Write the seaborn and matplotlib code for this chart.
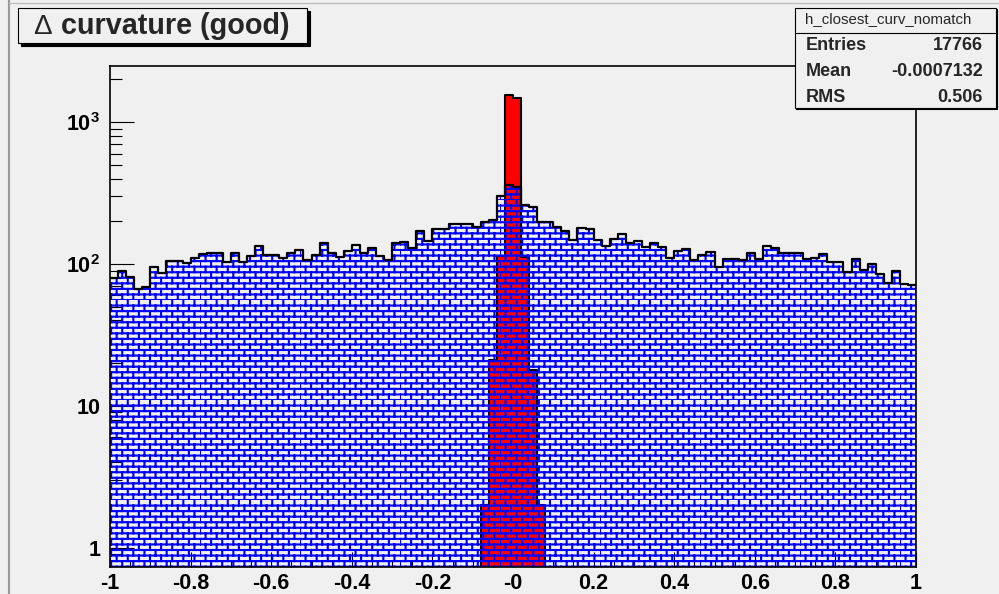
import warnings
import numpy as np
import pandas as pd
import matplotlib
matplotlib.use("Agg")
import matplotlib.pyplot as plt
import matplotlib.hatch as mhatch
from matplotlib.path import Path
from matplotlib.patches import Rectangle
from matplotlib.lines import Line2D
from matplotlib.ticker import LogLocator, NullFormatter, MultipleLocator, FixedLocator, FixedFormatter
import seaborn as sns

warnings.filterwarnings("ignore", category=matplotlib.MatplotlibDeprecationWarning)

# ---------------------------------------------------------------- data
x_lo, x_hi, n_bins = -1.0, 1.0, 100

# delta curvature, all candidates (100 bins of width 0.02 on [-1, 1])
blue_counts = [
    80, 90, 81, 67, 69, 95, 87, 105, 105, 102,
    111, 118, 120, 120, 104, 120, 104, 114, 134, 115,
    115, 111, 120, 126, 107, 116, 140, 120, 113, 124,
    136, 120, 130, 114, 107, 141, 144, 129, 171, 146,
    176, 176, 193, 190, 193, 183, 197, 206, 303, 360,
    348, 260, 251, 199, 197, 181, 172, 148, 180, 176,
    148, 134, 149, 164, 140, 145, 132, 140, 131, 111,
    124, 127, 107, 116, 122, 96, 108, 108, 107, 119,
    108, 134, 130, 119, 119, 119, 108, 111, 117, 104,
    104, 88, 108, 91, 100, 85, 74, 90, 72, 71,
]

# delta curvature, good matches: bins 46..53 (x from -0.08 to 0.08)
red_first_bin = 46
red_counts = [2, 21, 114, 1560, 1470, 112, 18, 2]

x_tick_values = [-1.0, -0.8, -0.6, -0.4, -0.2, 0.0, 0.2, 0.4, 0.6, 0.8, 1.0]
x_tick_labels = ["-1", "-0.8", "-0.6", "-0.4", "-0.2", "-0", "0.2", "0.4", "0.6", "0.8", "1"]
y_tick_values = [1, 10, 100, 1000]
y_tick_labels = ["1", "10", r"$\mathbf{10^{2}}$", r"$\mathbf{10^{3}}$"]
y_range = (0.731, 2490)

title_symbol = "\u0394"
title_words = "curvature (good)"
stats_name = "h_closest_curv_nomatch"
stats_labels = ["Entries", "Mean", "RMS"]
stats_values = ["17766", "-0.0007132", "0.506"]


# ---------------------------------------------------------------- brick hatch
class BrickHatch(mhatch.HatchPatternBase):
    """Staggered brick pattern, selected by the letter 'b' in a hatch string."""
    rows, cols = 18, 9

    def __init__(self, hatch, density):
        self.num_vertices = 2 * (self.rows + self.rows * self.cols) if "b" in hatch else 0

    def set_vertices_and_codes(self, vertices, codes):
        h = 1.0 / self.rows
        w = 1.0 / self.cols
        i = 0
        for r in range(self.rows):
            y0 = r * h
            vertices[i] = (0.0, y0); codes[i] = Path.MOVETO
            vertices[i + 1] = (1.0, y0); codes[i + 1] = Path.LINETO
            i += 2
            shift = 0.5 * w if r % 2 else 0.0
            for c in range(self.cols):
                x = c * w + shift
                vertices[i] = (x, y0); codes[i] = Path.MOVETO
                vertices[i + 1] = (x, y0 + h); codes[i + 1] = Path.LINETO
                i += 2


mhatch._hatch_types.append(BrickHatch)

# ---------------------------------------------------------------- style
W, H, DPI = 999, 594, 100
BG = "#f0f0f0"
sns.set_theme(style="white")
plt.rcParams.update({
    "font.family": ["Liberation Sans", "DejaVu Sans"],
    "mathtext.fontset": "custom",
    "mathtext.rm": "Liberation Sans",
    "mathtext.bf": "Liberation Sans:bold",
    "hatch.color": "#0000ff",
    "hatch.linewidth": 1.5,
    "figure.facecolor": BG,
    "axes.facecolor": BG,
})


def fx(px):
    return px / W


def fy(py):
    return 1.0 - py / H


fig = plt.figure(figsize=(W / DPI, H / DPI), dpi=DPI)
ax = fig.add_axes([fx(110), fy(567), (916 - 110) / W, (567 - 66) / H])

bin_w = (x_hi - x_lo) / n_bins
centers = x_lo + bin_w * (np.arange(n_bins) + 0.5)
blue_df = pd.DataFrame({"dcurv": centers, "n": blue_counts})
red_df = pd.DataFrame({"dcurv": centers[red_first_bin:red_first_bin + len(red_counts)],
                       "n": red_counts})
red_lo = x_lo + bin_w * red_first_bin
red_hi = red_lo + bin_w * len(red_counts)

# good matches: solid red bars
sns.histplot(data=red_df, x="dcurv", weights="n", bins=len(red_counts),
             binrange=(red_lo, red_hi), element="step", fill=True,
             color="#ff0000", facecolor="#ff0000", edgecolor="black", linewidth=1.5,
             alpha=1, ax=ax, zorder=1)
# all candidates: blue brick fill drawn over the red bars
sns.histplot(data=blue_df, x="dcurv", weights="n", bins=n_bins,
             binrange=(x_lo, x_hi), element="step", fill=True,
             color="#0000ff", facecolor="none", edgecolor="#0000ff", linewidth=0,
             hatch="b", alpha=1, ax=ax, zorder=2)
sns.histplot(data=blue_df, x="dcurv", weights="n", bins=n_bins,
             binrange=(x_lo, x_hi), element="step", fill=False,
             color="black", linewidth=1.6, ax=ax, zorder=3)

ax.set_yscale("log")
ax.set_xlim(x_lo, x_hi)
ax.set_ylim(*y_range)
ax.set_xlabel("")
ax.set_ylabel("")

ax.xaxis.set_major_locator(FixedLocator(x_tick_values))
ax.xaxis.set_major_formatter(FixedFormatter(x_tick_labels))
ax.xaxis.set_minor_locator(MultipleLocator(0.05))
ax.yaxis.set_major_locator(FixedLocator(y_tick_values))
ax.yaxis.set_major_formatter(FixedFormatter(y_tick_labels))
ax.yaxis.set_minor_locator(LogLocator(base=10, subs=np.arange(2, 10), numticks=100))
ax.yaxis.set_minor_formatter(NullFormatter())

ax.tick_params(axis="both", which="both", direction="in", color="black", width=0.8,
               labelsize=15.5, labelcolor="black")
ax.tick_params(axis="x", which="major", length=10.8, pad=4)
ax.tick_params(axis="x", which="minor", length=4.3)
ax.tick_params(axis="y", which="major", length=17.3, pad=7)
ax.tick_params(axis="y", which="minor", length=8.6)
ax.tick_params(bottom=True, left=True, top=False, right=False)
ax.tick_params(axis="both", which="minor", bottom=True, left=True)
for lab in ax.get_xticklabels() + ax.get_yticklabels():
    lab.set_fontweight("bold")
for s in ax.spines.values():
    s.set_color("black")
    s.set_linewidth(1.2)
    s.set_zorder(5)

# ---------------------------------------------------------------- canvas edges
fig.add_artist(Line2D([fx(8.5), fx(8.5)], [fy(0), fy(H)], color="#9a9a9a", lw=1.5))
fig.add_artist(Line2D([fx(8.5), fx(W)], [fy(3), fy(3)], color="#bdbdbd", lw=1.0))


def framed_box(x0, y0, x1, y1, shadow):
    fig.add_artist(Rectangle((fx(x0 + shadow), fy(y1 + shadow)), (x1 - x0) / W, (y1 - y0) / H,
                             transform=fig.transFigure, facecolor="black", edgecolor="black",
                             lw=0.8, zorder=10))
    fig.add_artist(Rectangle((fx(x0), fy(y1)), (x1 - x0) / W, (y1 - y0) / H,
                             transform=fig.transFigure, facecolor=BG, edgecolor="black",
                             lw=0.8, zorder=11))


# title box
framed_box(18, 8, 307, 43, 3)
fig.text(fx(33), fy(27), title_symbol, fontsize=20, fontweight="normal",
         ha="left", va="center", zorder=12)
fig.text(fx(61), fy(26), title_words, fontsize=20.7, fontweight="bold",
         ha="left", va="center", zorder=12)

# statistics box
framed_box(795, 8, 996, 108, 1)
fig.add_artist(Line2D([fx(795), fx(996)], [fy(33), fy(33)], color="black", lw=0.8, zorder=12))
fig.text(fx(805), fy(19), stats_name, fontsize=10.8, ha="left", va="center", zorder=12)
for i, (lab, val) in enumerate(zip(stats_labels, stats_values)):
    yy = 45.5 + 25.8 * i
    fig.text(fx(806), fy(yy), lab, fontsize=13, fontweight="bold", ha="left", va="center", zorder=12)
    fig.text(fx(983), fy(yy), val, fontsize=13, fontweight="bold", ha="right", va="center", zorder=12)

fig.savefig("out.png", dpi=DPI, facecolor=BG)
